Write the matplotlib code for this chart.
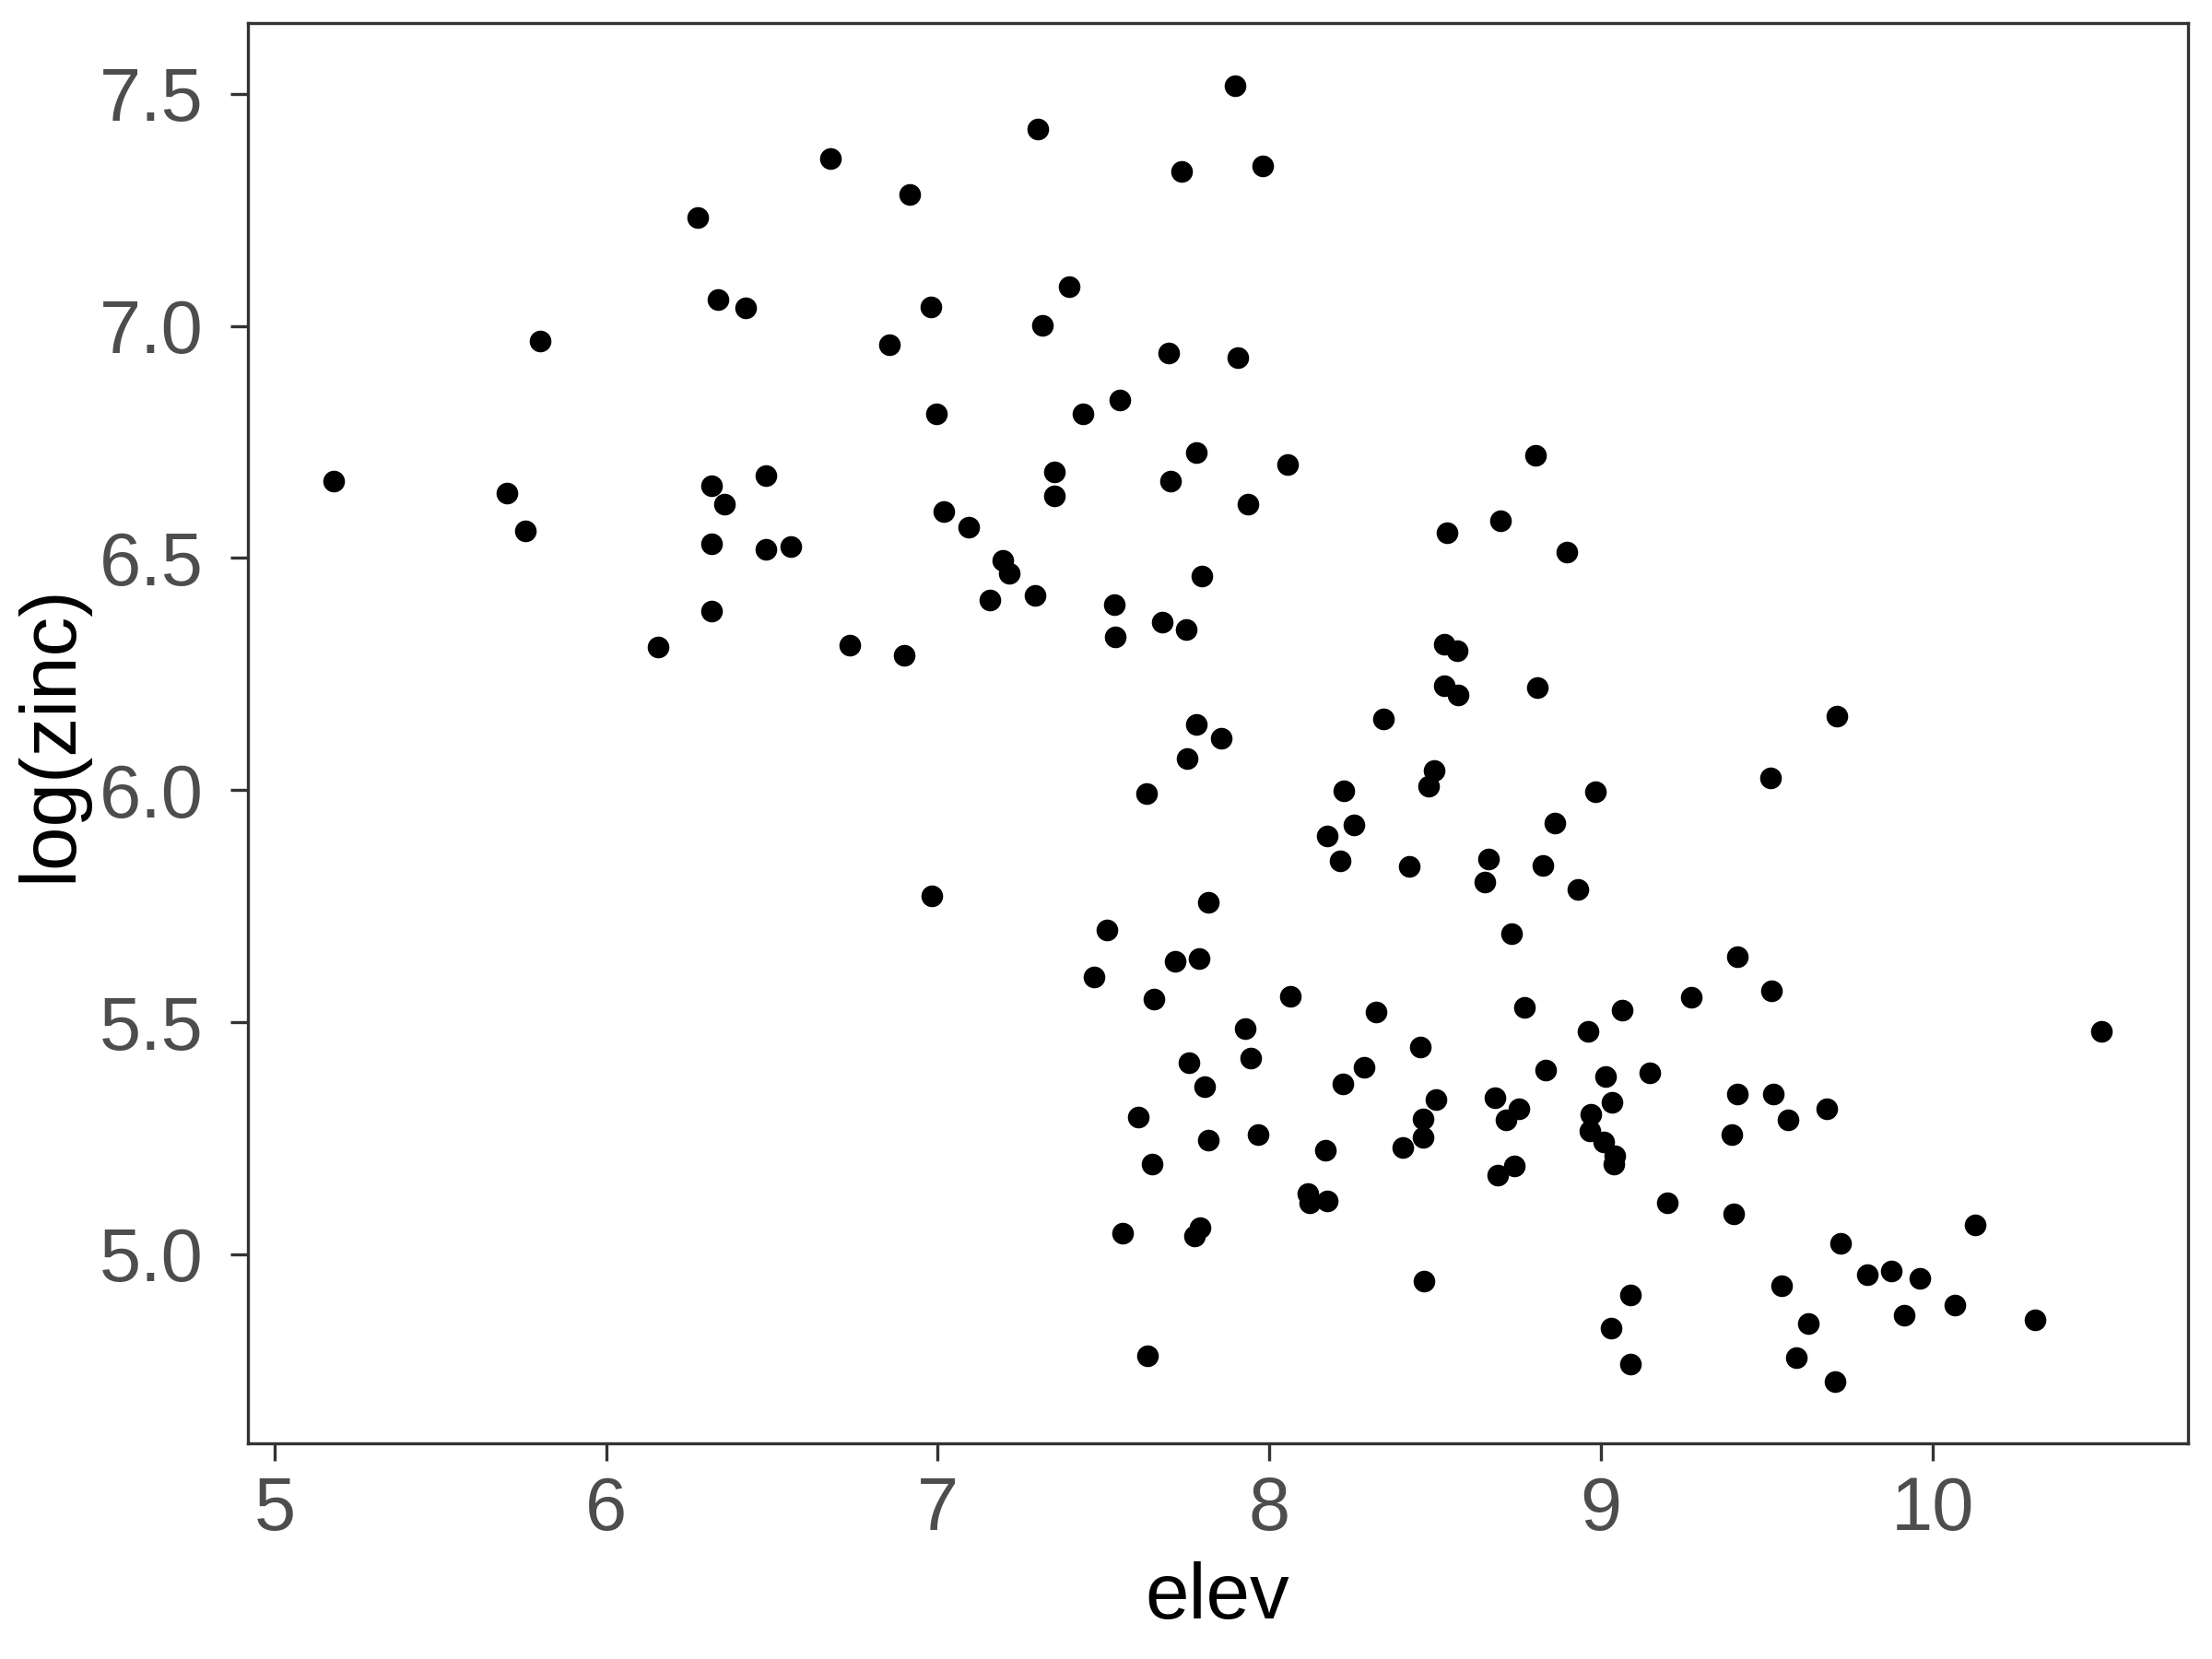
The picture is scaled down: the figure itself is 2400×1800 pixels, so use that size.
import matplotlib
matplotlib.use("Agg")
import matplotlib.pyplot as plt

plt.rcParams['font.family'] = ['Liberation Sans', 'DejaVu Sans']

# meuse data: elevation vs log(zinc)
elev = [5.179, 5.702, 5.757, 5.800, 6.157, 6.277, 6.319, 6.336, 6.357, 6.319,
        6.319, 6.421, 6.481, 6.481, 6.557, 6.677, 6.736, 6.855, 6.898, 6.915,
        6.979, 6.983, 6.996, 7.017, 7.094, 7.157, 7.196, 7.217, 7.294, 7.302,
        7.315, 7.353, 7.353, 7.396, 7.438, 7.472, 7.511, 7.532, 7.536, 7.549,
        7.557, 7.604, 7.630, 7.634, 7.647, 7.651, 7.677, 7.698, 7.702, 7.715,
        7.736, 7.749, 7.753, 7.757, 7.774, 7.779, 7.779, 7.787, 7.791, 7.796,
        7.804, 7.817, 7.817, 7.855, 7.898, 7.906, 7.928, 7.936, 7.945, 7.966,
        7.979, 8.055, 8.064, 8.115, 8.123, 8.170, 8.174, 8.174, 8.213, 8.221,
        8.226, 8.255, 8.285, 8.323, 8.345, 8.404, 8.421, 8.455, 8.464, 8.464,
        8.468, 8.481, 8.498, 8.502, 8.528, 8.528, 8.536, 8.566, 8.570, 8.651,
        8.660, 8.681, 8.689, 8.698, 8.715, 8.732, 8.740, 8.753, 8.770, 8.804,
        8.809, 8.826, 8.834, 8.860, 8.898, 8.932, 8.962, 8.970, 8.966, 8.983,
        9.009, 9.013, 9.030, 9.034, 9.038, 9.043, 9.064, 9.089, 9.089, 9.149,
        9.200, 9.272, 9.396, 9.400, 9.413, 9.413, 9.511, 9.515, 9.519, 9.545,
        9.566, 9.591, 9.626, 9.681, 9.711, 9.706, 9.723, 9.804, 9.877, 9.915,
        9.962, 10.068, 10.128, 10.311, 10.511]

log_zinc = [6.665, 6.640, 6.558, 6.968, 6.309, 7.233, 6.656, 7.057, 6.616, 6.531,
            6.385, 7.038, 6.677, 6.519, 6.525, 7.360, 6.312, 6.959, 6.291, 7.284,
            7.041, 5.772, 6.810, 6.601, 6.567, 6.409, 6.495, 6.467, 6.419, 7.424,
            7.002, 6.686, 6.634, 7.084, 6.810, 5.598, 5.699, 6.400, 6.330, 6.841,
            5.046, 5.295, 5.993, 4.781, 5.194, 5.550, 6.361, 6.941, 6.665, 5.632,
            7.333, 6.346, 6.069, 5.413, 5.040, 6.728, 6.142, 5.638, 5.058, 6.461,
            5.361, 5.246, 5.759, 6.112, 7.518, 6.932, 5.486, 6.616, 5.422, 5.258,
            7.345, 6.701, 5.556, 5.131, 5.112, 5.225, 5.115, 5.902, 5.848, 5.368,
            5.999, 5.926, 5.404, 5.522, 6.154, 5.231, 5.835, 5.447, 5.292, 5.252,
            4.942, 6.009, 6.042, 5.334, 6.315, 6.224, 6.555, 6.300, 6.206, 5.802,
            5.851, 5.337, 5.170, 6.580, 5.289, 5.690, 5.191, 5.313, 5.532, 6.722,
            6.221, 5.838, 5.398, 5.930, 6.513, 5.787, 5.480, 5.301, 5.267, 5.996,
            5.243, 5.383, 4.842, 5.328, 5.194, 5.213, 5.526, 4.912, 4.763, 5.392,
            5.112, 5.553, 5.258, 5.088, 5.346, 5.641, 6.027, 5.568, 5.346, 4.933,
            5.289, 4.778, 4.851, 5.313, 6.160, 4.727, 5.024, 4.957, 4.964, 4.869,
            4.948, 4.891, 5.064, 4.860, 5.480]

x_ticks = [5, 6, 7, 8, 9, 10]
y_ticks = [5.0, 5.5, 6.0, 6.5, 7.0, 7.5]

fig = plt.figure(figsize=(8, 6), dpi=300)
ax = fig.add_axes([0.112, 0.130, 0.877, 0.856])

ax.scatter(elev, log_zinc, s=32, color='black', linewidths=0, zorder=3)

ax.set_xlim(4.919, 10.77)
ax.set_ylim(4.593, 7.652)
ax.set_xticks(x_ticks)
ax.set_xticklabels([str(t) for t in x_ticks])
ax.set_yticks(y_ticks)
ax.set_yticklabels(['%.1f' % t for t in y_ticks])

ax.tick_params(axis='both', direction='out', length=4.5, width=0.8,
               color='#333333', labelcolor='#4D4D4D', labelsize=19.5)
ax.tick_params(axis='y', pad=7)
ax.tick_params(axis='x', pad=4)
for sp in ax.spines.values():
    sp.set_color('#333333')
    sp.set_linewidth(0.8)

ax.set_xlabel('elev', fontsize=20.5, color='black', labelpad=4)
ax.set_ylabel('log(zinc)', fontsize=20.5, color='black', labelpad=3)

fig.savefig('out.png', dpi=300)
